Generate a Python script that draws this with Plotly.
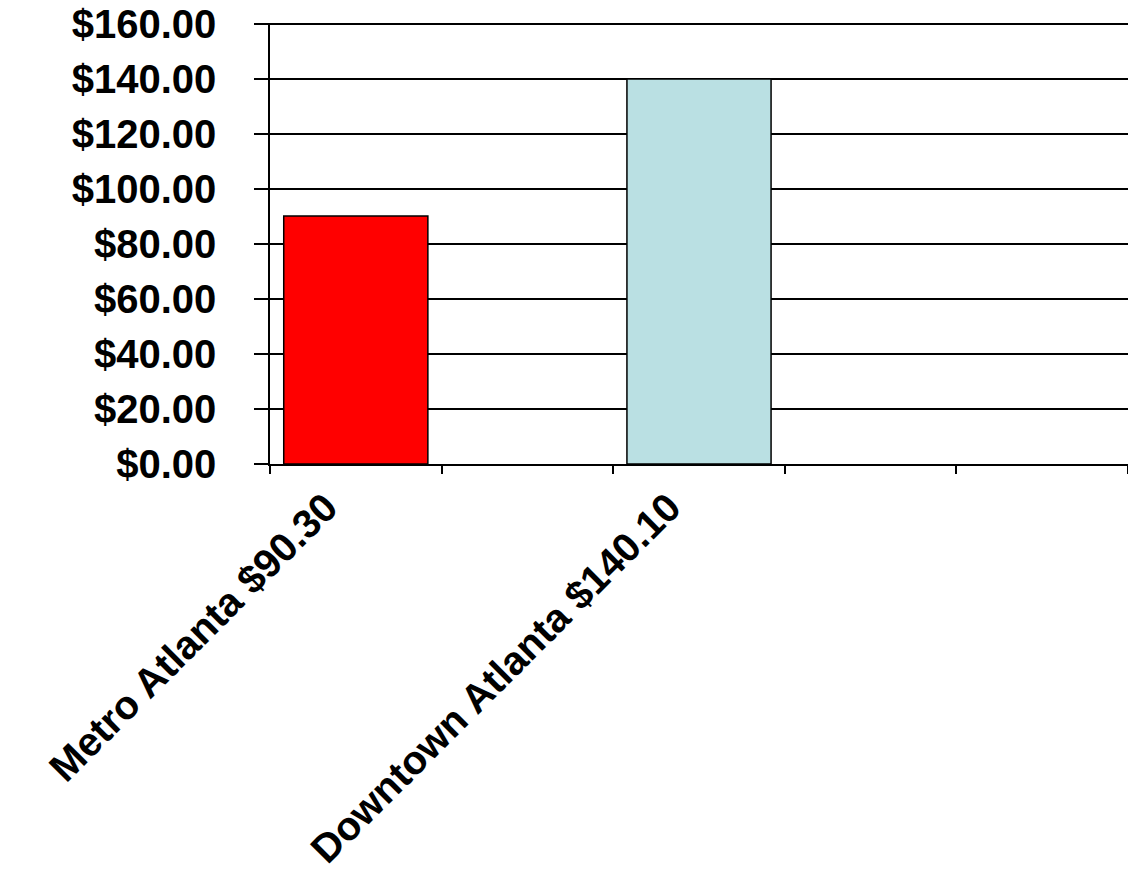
import plotly.graph_objects as go

categories = ["Metro Atlanta $90.30", "slot2", "Downtown Atlanta $140.10", "slot4", "slot5"]
tick_labels = ["Metro Atlanta $90.30", "", "Downtown Atlanta $140.10", "", ""]
values = [90.30, None, 140.10, None, None]
bar_colors = ["#FF0000", "#FFFFFF", "#BAE0E3", "#FFFFFF", "#FFFFFF"]
y_ticks = [0, 20, 40, 60, 80, 100, 120, 140, 160]
y_tick_labels = ["$%.2f" % v for v in y_ticks]

fig = go.Figure()
fig.add_trace(go.Bar(
    x=categories, y=values, width=0.84,
    marker=dict(color=bar_colors, line=dict(color="black", width=1.5)),
    showlegend=False,
))

yfont = dict(family="Liberation Sans, Arial, sans-serif", size=40, color="black", weight="bold")
xfont = dict(family="Liberation Sans, Arial, sans-serif", size=40, color="black", weight="bold")

fig.update_layout(
    width=1128, height=889,
    margin=dict(l=270, r=0, t=23, b=425, pad=0),
    paper_bgcolor="white", plot_bgcolor="white",
)
fig.update_xaxes(
    type="category", categoryorder="array", categoryarray=categories,
    tickvals=categories, ticktext=tick_labels, tickangle=-45,
    tickson="boundaries", ticks="outside", ticklen=8, tickwidth=1.5, tickcolor="black",
    showline=True, linecolor="black", linewidth=1.5, showgrid=False,
    tickfont=xfont, range=[-0.5, 4.5], ticklabelshift=-30, ticklabelstandoff=2,
    automargin=False,
)
fig.update_yaxes(
    range=[0, 160.5], tickvals=y_ticks, ticktext=y_tick_labels,
    ticks="outside", ticklen=14, tickwidth=1.5, tickcolor="black",
    showline=True, linecolor="black", linewidth=1.5,
    showgrid=True, gridcolor="black", gridwidth=1.5, zeroline=False,
    tickfont=yfont, ticklabelstandoff=30, automargin=False,
)

fig.write_html("out.html")
